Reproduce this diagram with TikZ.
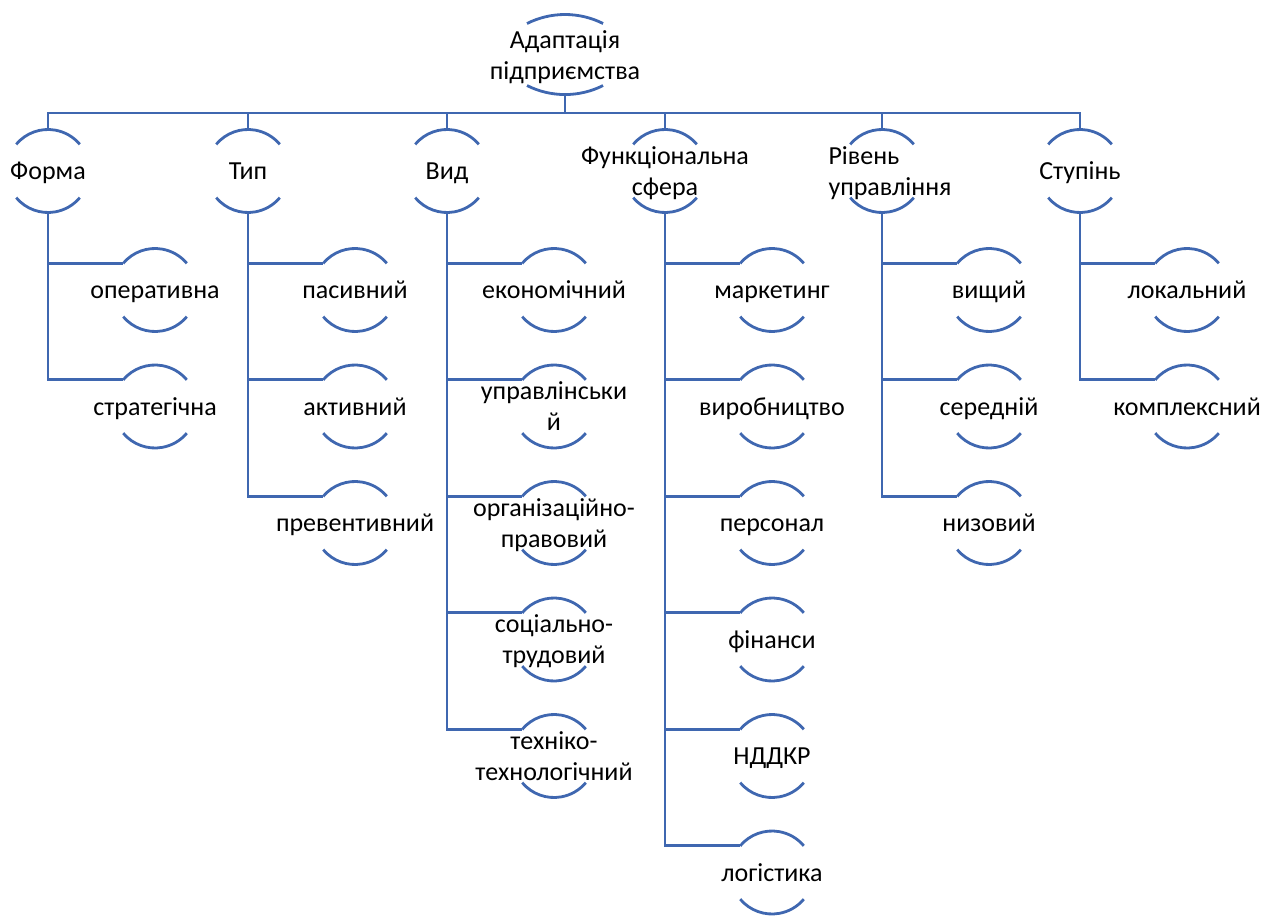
\documentclass[tikz,border=0pt]{standalone}
\usepackage{fontspec}
\setmainfont{Carlito}
\usetikzlibrary{calc}
\definecolor{lineblue}{HTML}{3F67B0}
\newcommand\ctext[1]{\makebox[0pt]{\raisebox{-2pt}[\height][\depth]{\begin{tabular}{@{}c@{}}#1\end{tabular}}}}
\newcommand\ltext[2]{\makebox[0pt]{\hspace*{#1}\raisebox{-2pt}[\height][\depth]{\begin{tabular}{@{}l@{}}#2\end{tabular}}}}
\begin{document}
\begin{tikzpicture}[x=0.75pt,y=-0.75pt,
  hnode/.style={circle, inner sep=0pt, outer sep=0pt, minimum size=62.25pt,
    font=\fontsize{19.5}{23}\selectfont},
  rootnode/.style={hnode, minimum size=59.25pt},
  conn/.style={draw=lineblue, line width=2.1pt}]
\useasboundingbox (0,0) rectangle (1278,916);

% root
\node[rootnode] (root) at (565,55) {\ctext{Адаптація\\підприємства}};
\coordinate (bus) at (565,113);

% level 1
\node[hnode] (f1) at (48,171)   {\ctext{Форма}};
\node[hnode] (f2) at (248,171)  {\ctext{Тип}};
\node[hnode] (f3) at (447,171)  {\ctext{Вид}};
\node[hnode] (f4) at (665,171)  {\ctext{Функціональна\\сфера}};
\node[hnode] (f5) at (882,171)  {\ltext{12pt}{Рівень\\управління}};
\node[hnode] (f6) at (1080,171) {\ctext{Ступінь}};

% children
\node[hnode] (c11) at (155,290)   {\ctext{оперативна}};
\node[hnode] (c12) at (155,406.5) {\ctext{стратегічна}};

\node[hnode] (c21) at (355,290)   {\ctext{пасивний}};
\node[hnode] (c22) at (355,406.5) {\ctext{активний}};
\node[hnode] (c23) at (355,523)   {\ctext{превентивний}};

\node[hnode] (c31) at (554,290)   {\ctext{економічний}};
\node[hnode] (c32) at (554,406.5) {\ctext{управлінськи\\й}};
\node[hnode] (c33) at (554,523)   {\ctext{організаційно-\\правовий}};
\node[hnode] (c34) at (554,639.5) {\ctext{соціально-\\трудовий}};
\node[hnode] (c35) at (554,756)   {\ctext{техніко-\\технологічний}};

\node[hnode] (c41) at (772,290)   {\ctext{маркетинг}};
\node[hnode] (c42) at (772,406.5) {\ctext{виробництво}};
\node[hnode] (c43) at (772,523)   {\ctext{персонал}};
\node[hnode] (c44) at (772,639.5) {\ctext{фінанси}};
\node[hnode] (c45) at (772,756)   {\ctext{НДДКР}};
\node[hnode] (c46) at (772,872.5) {\ctext{логістика}};

\node[hnode] (c51) at (989,290)   {\ctext{вищий}};
\node[hnode] (c52) at (989,406.5) {\ctext{середній}};
\node[hnode] (c53) at (989,523)   {\ctext{низовий}};

\node[hnode] (c61) at (1187,290)   {\ctext{локальний}};
\node[hnode] (c62) at (1187,406.5) {\ctext{комплексний}};

% arcs of the circle nodes
\foreach \n in {f1,f2,f3,f4,f5,f6,c11,c12,c21,c22,c23,c31,c32,c33,c34,c35,
  c41,c42,c43,c44,c45,c46,c51,c52,c53,c61,c62}{
  \draw[conn] (\n.140) arc[start angle=140,end angle=40,radius=31.125pt];
  \draw[conn] (\n.220) arc[start angle=220,end angle=320,radius=31.125pt];
}
% root arcs
\draw[conn] ($(root.center)+(-28.5pt,23.6pt)$) arc[start angle=116.7,end angle=63.3,radius=63.5pt];
\draw[conn] ($(root.center)+(-28.5pt,-22.9pt)$) arc[start angle=243.3,end angle=296.7,radius=63.5pt];

% connectors
\draw[conn] (root.south) -- (bus);
\draw[conn] (f1.north) |- (bus) -| (f6.north);
\foreach \n in {f2,f3,f4,f5}{ \draw[conn] (bus) -| (\n.north); }

\foreach \p/\c in {f1/c11,f1/c12,f2/c21,f2/c22,f2/c23,
  f3/c31,f3/c32,f3/c33,f3/c34,f3/c35,
  f4/c41,f4/c42,f4/c43,f4/c44,f4/c45,f4/c46,
  f5/c51,f5/c52,f5/c53,f6/c61,f6/c62}{
  \draw[conn] (\p.south) |- (\c.140);
}
\end{tikzpicture}
\end{document}
